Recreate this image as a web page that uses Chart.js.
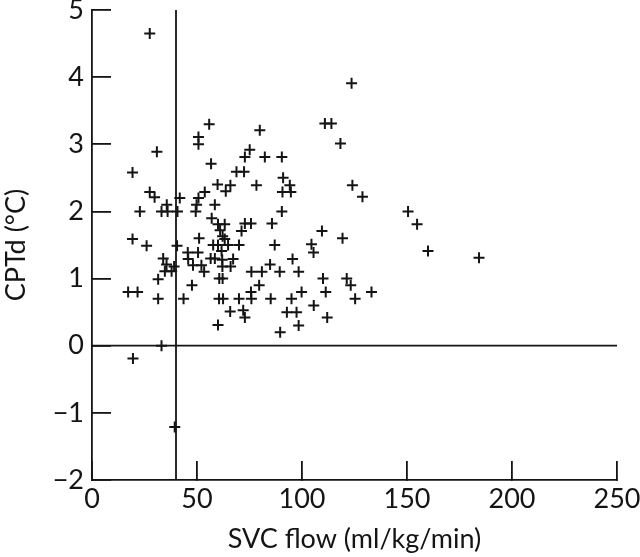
<!DOCTYPE html>
<html>
<head>
<meta charset="utf-8">
<script src="https://cdn.jsdelivr.net/npm/chart.js@4.4.1/dist/chart.umd.min.js"></script>
<style>
html,body{margin:0;padding:0;background:#fff;}
#wrap{width:640px;height:557px;position:relative;}
</style>
</head>
<body>
<div id="wrap"><canvas id="c" width="640" height="557"></canvas></div>
<script>
// SVC flow (ml/kg/min)
const svcFlow = [
  27.5, 30.9, 19.3, 27.5, 29.8, 35.6, 22.8, 33.1, 36.0, 40.7, 41.8, 19.3, 26.0, 40.5,
  33.9, 35.5, 34.7, 37.9, 39.1, 31.5, 17.2, 21.7, 31.5, 33.1, 19.5, 39.4,
  43.6, 47.6, 45.6, 50.5, 45.8, 48.1, 52.1, 53.4, 51.0, 49.4, 49.8, 50.7, 53.7, 50.7, 50.7,
  55.8, 56.7, 58.5, 59.8, 63.7, 65.9, 57.0, 60.0, 63.2, 61.0, 62.2, 63.2, 57.7, 60.0, 64.8,
  70.0, 61.7, 56.5, 58.5, 62.0, 67.2, 62.1, 66.0, 60.6, 62.2, 60.5, 62.4, 70.0, 75.9, 65.8,
  72.0, 72.8, 60.0, 72.8, 75.7, 71.2, 85.7, 87.0, 84.8, 75.9, 80.9, 89.4, 98.4, 95.5, 79.6,
  75.7, 85.1, 95.0, 99.8, 92.8, 97.4, 98.4, 89.6, 104.5, 105.5, 109.5, 119.3, 110.0, 121.3,
  123.2, 111.3, 125.3, 105.6, 112.0, 133.1, 150.5, 154.8, 160.0, 184.3, 123.6, 110.9, 114.0,
  118.3, 124.0, 128.8, 79.9, 75.1, 72.8, 82.3, 90.4, 68.8, 72.4, 91.0, 94.2, 90.7, 94.7,
  78.3, 90.4
];
// CPTd (°C)
const cptd = [
  4.65, 2.89, 2.58, 2.29, 2.21, 2.10, 2.00, 2.00, 2.00, 2.00, 2.20, 1.59, 1.49, 1.49,
  1.30, 1.21, 1.11, 1.11, 1.18, 0.99, 0.80, 0.80, 0.70, 0.00, -0.19, -1.21,
  0.70, 0.90, 1.39, 1.39, 1.29, 1.20, 1.20, 1.10, 1.60, 2.00, 2.10, 2.20, 2.29, 3.11, 3.00,
  3.30, 2.71, 2.10, 2.40, 2.30, 2.39, 1.90, 1.81, 1.81, 1.72, 1.63, 1.59, 1.50, 1.50, 1.50,
  1.50, 1.41, 1.30, 1.30, 1.28, 1.29, 1.18, 1.18, 1.00, 1.00, 0.70, 0.70, 0.70, 0.70, 0.51,
  0.53, 0.42, 0.31, 1.82, 1.82, 1.71, 1.82, 1.50, 1.21, 1.10, 1.10, 1.10, 1.10, 1.29, 0.90,
  0.80, 0.70, 0.70, 0.80, 0.50, 0.50, 0.30, 0.20, 1.51, 1.39, 1.71, 1.60, 1.00, 1.00,
  0.90, 0.80, 0.70, 0.60, 0.42, 0.80, 2.00, 1.81, 1.41, 1.31, 3.91, 3.31, 3.31,
  3.01, 2.39, 2.22, 3.21, 2.92, 2.81, 2.81, 2.81, 2.59, 2.59, 2.50, 2.39, 2.29, 2.29,
  2.39, 2.00
];
// reference lines
const refX = 40;      // vertical line at SVC flow = 40
const refY = 0;       // horizontal line at CPTd = 0
const xTicks = [0, 50, 100, 150, 200, 250];
const yTicks = [-2, -1, 0, 1, 2, 3, 4, 5];
const xRange = [0, 250];
const yRange = [-2, 5];

const FONT = "Lato, 'Open Sans', sans-serif";
const INK = '#141414';
const TICK_IN = 19;   // inward tick length

const points = svcFlow.map((x, i) => ({ x: x, y: cptd[i] }));

const inwardGrid = {
  display: true,
  drawOnChartArea: false,
  drawTicks: true,
  tickLength: -TICK_IN,
  tickWidth: 1.8,
  tickColor: INK,
  color: INK,
  lineWidth: 1.8
};

new Chart(document.getElementById('c'), {
  type: 'scatter',
  data: {
    datasets: [
      {
        data: points,
        pointStyle: 'cross',
        pointRadius: 5.5,
        pointHoverRadius: 5.5,
        borderColor: INK,
        backgroundColor: INK,
        pointBorderWidth: 2,
        showLine: false
      },
      {
        data: [{ x: refX, y: yRange[0] }, { x: refX, y: yRange[1] }],
        showLine: true,
        borderColor: INK,
        borderWidth: 1.8,
        pointRadius: 0
      },
      {
        data: [{ x: xRange[0], y: refY }, { x: xRange[1], y: refY }],
        showLine: true,
        borderColor: INK,
        borderWidth: 1.8,
        pointRadius: 0
      }
    ]
  },
  options: {
    responsive: false,
    animation: false,
    events: [],
    layout: { padding: { top: 10, right: 23, left: 0, bottom: 0 } },
    plugins: { legend: { display: false }, tooltip: { enabled: false } },
    scales: {
      x: {
        type: 'linear',
        min: xRange[0], max: xRange[1],
        afterBuildTicks: s => { s.ticks = xTicks.map(v => ({ value: v })); },
        afterFit: s => { s.height = 77; s.paddingLeft = 0; s.paddingRight = 0; },
        border: { display: true, color: INK, width: 1.8 },
        grid: inwardGrid,
        ticks: { color: INK, font: { family: FONT, size: 27 }, padding: 3 + TICK_IN, maxRotation: 0 },
        title: { display: true, text: 'SVC flow (ml/kg/min)', color: INK, font: { family: FONT, size: 27 }, padding: { top: 0, bottom: 2 } }
      },
      y: {
        type: 'linear',
        min: yRange[0], max: yRange[1],
        afterBuildTicks: s => { s.ticks = yTicks.map(v => ({ value: v })); },
        afterFit: s => { s.width = 92; s.paddingTop = 0; s.paddingBottom = 0; },
        border: { display: true, color: INK, width: 1.8 },
        grid: inwardGrid,
        ticks: {
          color: INK, font: { family: FONT, size: 27 }, padding: 8 + TICK_IN,
          callback: v => (v < 0 ? '\u2212' + Math.abs(v) : String(v))
        },
        title: { display: true, text: 'CPTd (°C)', color: INK, font: { family: FONT, size: 27 }, padding: { top: 0, bottom: 4 } }
      }
    }
  }
});
</script>
</body>
</html>
